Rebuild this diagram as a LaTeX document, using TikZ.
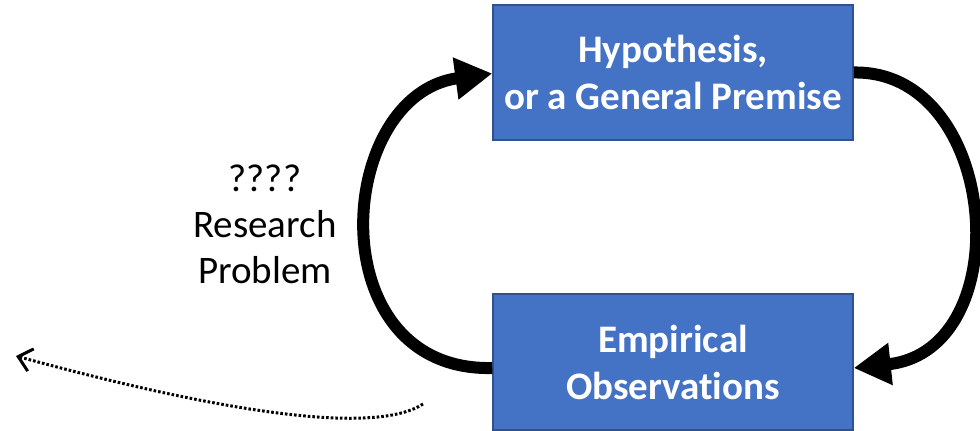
\documentclass[tikz,border=0pt]{standalone}
\usepackage{fontspec}
\setmainfont[RawFeature={-liga;-clig;-calt}]{Carlito}
\usetikzlibrary{positioning,arrows.meta}
\definecolor{boxblue}{HTML}{4472C4}
\definecolor{boxedge}{HTML}{2F528F}
\tikzset{
cycle/.style={
    x=1pt,
    y=-1pt,
    semithick
},
stage/.style={
    rectangle,
    draw=boxedge,
    line width=1.5pt,
    fill=boxblue,
    text=white,
    align=center,
    minimum width=360pt,
    font=\bfseries\fontsize{39}{47}\selectfont
},
note/.style={
    align=center,
    font=\fontsize{39}{46}\selectfont
},
leads/.style={
    line width=12pt,
    -{Triangle[length=37pt,width=40pt]}
},
drift/.style={
    line width=3pt,
    dash pattern=on 2.6pt off 2pt,
    -{Straight Barb[length=13pt,width=23pt,line width=3pt]}
}}

\begin{document}
\begin{tikzpicture}[cycle]
\useasboundingbox (0,0) rectangle (980,431);
\node[stage, minimum height=135pt]    (hyp)    at (673,72.5)    {Hypothesis,\\or a General Premise};
\node[stage, minimum height=136pt]    (obs)    at (673,362)     {Empirical\\Observations};
\node[note]    (prob)    at (265,224)    {????\\Research\\Problem};
\coordinate    (from)    at (423,404);
\coordinate    (away)    at (16,356);

\draw[leads]    ([yshift=-6pt]obs.west) .. controls (318,372) and (334,95) .. ([yshift=-1pt]hyp.west);
\draw[leads]    (hyp.east) .. controls (1000,70) and (1020,350) .. ([yshift=-6pt]obs.east);
\draw[drift]    (from) .. controls (380,432) and (250,420) .. (away);
\end{tikzpicture}
\end{document}
